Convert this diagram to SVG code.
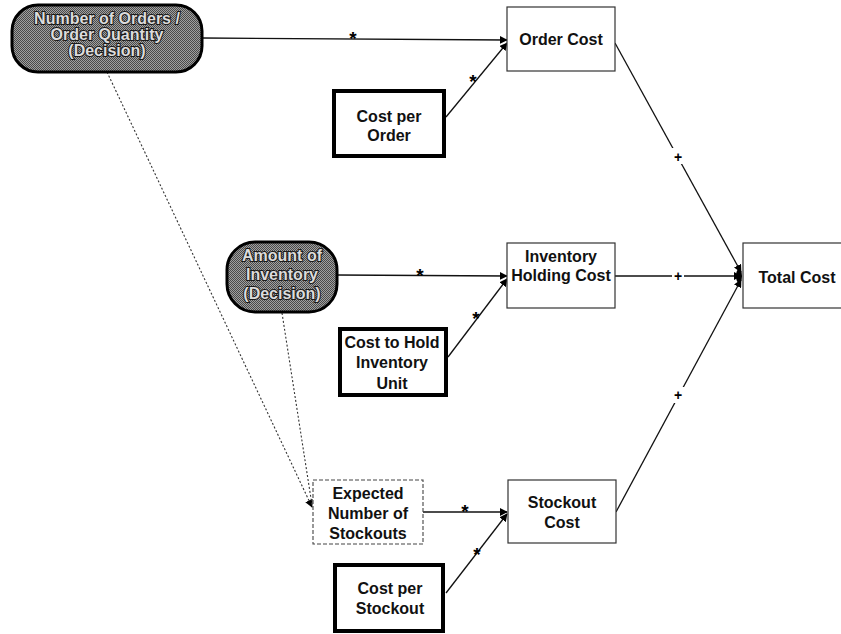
<svg xmlns="http://www.w3.org/2000/svg" width="841" height="634" viewBox="0 0 841 634">
<style>
.t{font-family:"Liberation Sans",Arial,sans-serif;font-weight:bold;font-size:16px;fill:#111;text-anchor:middle}
.d{font-family:"Liberation Sans",Arial,sans-serif;font-weight:bold;font-size:16px;fill:#dcdcdc;stroke:#1a1a1a;stroke-width:2;paint-order:stroke;text-anchor:middle}
.thin{fill:#fff;stroke:#333;stroke-width:1.2}
.dash{fill:#fff;stroke:#444;stroke-width:1.1;stroke-dasharray:4 2}
.thick{fill:#fff;stroke:#000;stroke-width:4}
.dec{fill:url(#stip);stroke:#000;stroke-width:3}
.c{fill:none;stroke:#111;stroke-width:1.3}
.dot{fill:none;stroke:#333;stroke-width:1.1;stroke-dasharray:2 2}
.lab{font-family:"Liberation Sans",Arial,sans-serif;font-weight:bold;font-size:14px;fill:#000;text-anchor:middle}
.ast{font-family:"Liberation Sans",Arial,sans-serif;font-weight:bold;font-size:19px;fill:#000;text-anchor:middle}
</style>
<defs>
<pattern id="stip" width="2" height="2" patternUnits="userSpaceOnUse">
<rect width="2" height="2" fill="#a0a0a0"/>
<rect width="1" height="1" fill="#4a4a4a"/>
<rect x="1" y="1" width="1" height="1" fill="#4a4a4a"/>
</pattern>
<marker id="ah" viewBox="0 0 10 10" refX="9" refY="5" markerWidth="8" markerHeight="8" markerUnits="userSpaceOnUse" orient="auto">
<path d="M0,0 L10,5 L0,10 z" fill="#000"/>
</marker>
</defs>
<rect width="841" height="634" fill="#fff"/>

<g id="connectors">
<line class="c" x1="202" y1="38" x2="507" y2="40" marker-end="url(#ah)"/>
<line class="c" x1="446" y1="117" x2="507" y2="43" marker-end="url(#ah)"/>
<line class="c" x1="615" y1="43" x2="741" y2="272" marker-end="url(#ah)"/>
<line class="c" x1="337" y1="275" x2="507" y2="276" marker-end="url(#ah)"/>
<line class="c" x1="448" y1="357" x2="507" y2="279" marker-end="url(#ah)"/>
<line class="c" x1="615" y1="276" x2="741" y2="276" marker-end="url(#ah)"/>
<line class="c" x1="616" y1="512" x2="741" y2="280" marker-end="url(#ah)"/>
<line class="dot" x1="107" y1="72" x2="312" y2="507" marker-end="url(#ah)"/>
<line class="dot" x1="282" y1="313" x2="312" y2="505"/>
<line class="c" x1="423" y1="512" x2="507" y2="512" marker-end="url(#ah)"/>
<line class="c" x1="446" y1="593" x2="507" y2="514" marker-end="url(#ah)"/>
<ellipse cx="739" cy="276" rx="3" ry="7" fill="#000"/>
<text class="ast" x="353" y="45">*</text>
<text class="ast" x="473" y="88">*</text>
<text class="ast" x="420" y="282">*</text>
<text class="ast" x="476" y="325">*</text>
<text class="ast" x="465" y="518">*</text>
<text class="ast" x="477" y="561">*</text>
<rect x="672" y="148" width="12" height="16" fill="#fff"/>
<text class="lab" x="678" y="162">+</text>
<rect x="672" y="268" width="12" height="16" fill="#fff"/>
<text class="lab" x="678" y="281">+</text>
<rect x="672" y="387" width="12" height="16" fill="#fff"/>
<text class="lab" x="678" y="400">+</text>
</g>

<g id="number-of-orders">
<rect class="dec" x="12" y="5" width="190" height="67" rx="26"/>
<text class="d" x="107" y="24">Number of Orders /</text>
<text class="d" x="107" y="40">Order Quantity</text>
<text class="d" x="107" y="56">(Decision)</text>
</g>

<g id="order-cost">
<rect class="thin" x="507" y="7" width="108" height="64"/>
<text class="t" x="561" y="45">Order Cost</text>
</g>

<g id="cost-per-order">
<rect class="thick" x="334" y="91" width="110" height="65"/>
<text class="t" x="389" y="122">Cost per</text>
<text class="t" x="389" y="141">Order</text>
</g>

<g id="amount-of-inventory">
<rect class="dec" x="227" y="242" width="110" height="70" rx="28"/>
<text class="d" x="282" y="261">Amount of</text>
<text class="d" x="282" y="280">Inventory</text>
<text class="d" x="282" y="299">(Decision)</text>
</g>

<g id="inventory-holding-cost">
<rect class="thin" x="507" y="243" width="108" height="65"/>
<text class="t" x="561" y="262">Inventory</text>
<text class="t" x="561" y="281">Holding Cost</text>
</g>

<g id="total-cost">
<rect class="thin" x="743" y="243" width="110" height="65"/>
<text class="t" x="797" y="283">Total Cost</text>
</g>

<g id="cost-to-hold">
<rect class="thick" x="340" y="329" width="106" height="66"/>
<text class="t" x="392" y="348">Cost to Hold</text>
<text class="t" x="392" y="368">Inventory</text>
<text class="t" x="392" y="389">Unit</text>
</g>

<g id="expected-stockouts">
<rect class="dash" x="313" y="480" width="110" height="64"/>
<text class="t" x="368" y="499">Expected</text>
<text class="t" x="368" y="519">Number of</text>
<text class="t" x="368" y="539">Stockouts</text>
</g>

<g id="stockout-cost">
<rect class="thin" x="508" y="480" width="108" height="63"/>
<text class="t" x="562" y="508">Stockout</text>
<text class="t" x="562" y="528">Cost</text>
</g>

<g id="cost-per-stockout">
<rect class="thick" x="335" y="565" width="108" height="66"/>
<text class="t" x="390" y="594">Cost per</text>
<text class="t" x="390" y="614">Stockout</text>
</g>
</svg>
